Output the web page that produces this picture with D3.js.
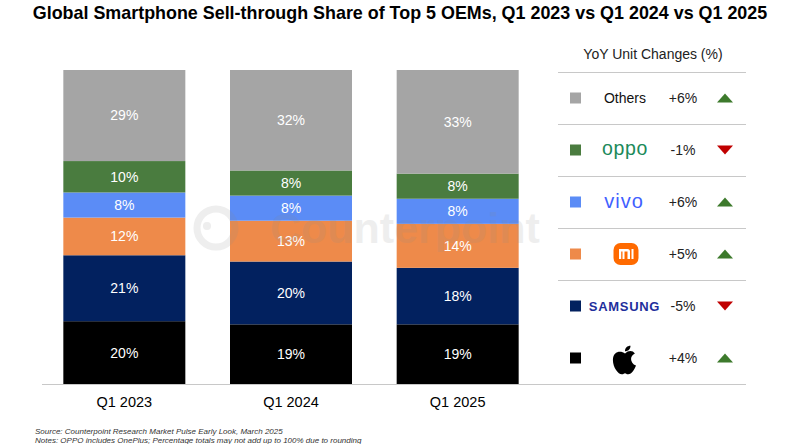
<!DOCTYPE html>
<html>
<head>
<meta charset="utf-8">
<script src="https://cdn.jsdelivr.net/npm/d3@7"></script>
<style>
  body { margin: 0; background: #fff; }
  text { font-family: "Liberation Sans", Arial, sans-serif; }
</style>
</head>
<body>
<div id="chart"></div>
<script>
// chart data
const quarters = ['Q1 2023', 'Q1 2024', 'Q1 2025'];
const brands = ['Apple', 'Samsung', 'Xiaomi', 'vivo', 'OPPO', 'Others']; // bottom to top
const apple = [20, 19, 19];
const samsung = [21, 20, 18];
const xiaomi = [12, 13, 14];
const vivo = [8, 8, 8];
const oppo = [10, 8, 8];
const others = [29, 32, 33];
// legend, top to bottom
const legendBrands = ['Others', 'OPPO', 'vivo', 'Xiaomi', 'Samsung', 'Apple'];
const yoyChange = [6, -1, 6, 5, -5, 4];

const WIDTH = 790;
const HEIGHT = 444;
const colors = {
  Apple: '#000000',
  Samsung: '#02215f',
  Xiaomi: '#ee8a4a',
  vivo: '#5b8cf6',
  OPPO: '#4a7c3f',
  Others: '#a5a5a5'
};

const svg = d3.select('#chart')
  .append('svg')
  .attr('width', WIDTH)
  .attr('height', HEIGHT);

// title
svg.append('text')
  .attr('x', 400)
  .attr('y', 19)
  .attr('text-anchor', 'middle')
  .attr('font-size', '17.9px')
  .attr('font-weight', 'bold')
  .attr('fill', '#000')
  .text('Global Smartphone Sell-through Share of Top 5 OEMs, Q1 2023 vs Q1 2024 vs Q1 2025');

// scales
const x = d3.scaleBand()
  .domain(quarters)
  .range([41, 541])
  .paddingInner(0.268)
  .paddingOuter(0.134);

const y = d3.scaleLinear()
  .domain([0, 100])
  .range([384, 70]);

// stack the series
const table = quarters.map((q, i) => ({
  quarter: q,
  Apple: apple[i],
  Samsung: samsung[i],
  Xiaomi: xiaomi[i],
  vivo: vivo[i],
  OPPO: oppo[i],
  Others: others[i]
}));
const series = d3.stack().keys(brands)(table);

const layers = svg.append('g')
  .selectAll('g')
  .data(series)
  .enter()
  .append('g')
  .attr('fill', d => colors[d.key]);

layers.selectAll('rect')
  .data(d => d)
  .enter()
  .append('rect')
  .attr('x', d => x(d.data.quarter))
  .attr('y', d => y(d[1]))
  .attr('width', x.bandwidth())
  .attr('height', d => y(d[0]) - y(d[1]));

// watermark, faint, over the bars
const wm = svg.append('g').attr('opacity', 0.14).attr('fill', '#8a8a8a');
wm.append('circle')
  .attr('cx', 216).attr('cy', 228).attr('r', 19)
  .attr('fill', 'none').attr('stroke', '#8a8a8a').attr('stroke-width', 7);
wm.append('circle').attr('cx', 207).attr('cy', 226).attr('r', 4);
wm.append('text')
  .attr('x', 270).attr('y', 243)
  .attr('font-size', '43px')
  .attr('font-weight', 'bold')
  .text('Counterpoint');

layers.selectAll('text')
  .data(d => d)
  .enter()
  .append('text')
  .attr('x', d => x(d.data.quarter) + x.bandwidth() / 2)
  .attr('y', d => (y(d[0]) + y(d[1])) / 2)
  .attr('dy', '0.35em')
  .attr('text-anchor', 'middle')
  .attr('font-size', '14px')
  .attr('fill', '#fff')
  .text(d => (d[1] - d[0]) + '%');
layers.raise();
layers.selectAll('rect').lower();

// x axis
svg.append('line')
  .attr('x1', 42).attr('x2', 746)
  .attr('y1', 384.5).attr('y2', 384.5)
  .attr('stroke', '#c8c8c8').attr('stroke-width', 1);

svg.append('g')
  .selectAll('text')
  .data(quarters)
  .enter()
  .append('text')
  .attr('x', d => x(d) + x.bandwidth() / 2)
  .attr('y', 407)
  .attr('text-anchor', 'middle')
  .attr('font-size', '14.5px')
  .attr('fill', '#000')
  .text(d => d);

// legend
svg.append('text')
  .attr('x', 653).attr('y', 59)
  .attr('text-anchor', 'middle')
  .attr('font-size', '14px')
  .attr('fill', '#222')
  .text('YoY Unit Changes (%)');

const rowY = d3.scaleBand()
  .domain(legendBrands)
  .range([72, 384]);

svg.append('g')
  .selectAll('line')
  .data(legendBrands.slice(0, -1))
  .enter()
  .append('line')
  .attr('x1', 558).attr('x2', 746)
  .attr('y1', d => rowY(d) + 0.5)
  .attr('y2', d => rowY(d) + 0.5)
  .attr('stroke', '#c8c8c8');

const rows = svg.append('g')
  .selectAll('g')
  .data(legendBrands)
  .enter()
  .append('g')
  .attr('transform', d => `translate(0, ${rowY(d) + rowY.bandwidth() / 2})`);

rows.append('rect')
  .attr('x', 570).attr('y', -5.5)
  .attr('width', 11).attr('height', 11)
  .attr('fill', d => colors[d]);

rows.append('text')
  .attr('x', 683).attr('dy', '0.35em')
  .attr('text-anchor', 'middle')
  .attr('font-size', '14px')
  .attr('fill', '#222')
  .text((d, i) => (yoyChange[i] > 0 ? '+' : '') + yoyChange[i] + '%');

rows.append('path')
  .attr('transform', 'translate(725, 0)')
  .attr('d', (d, i) => yoyChange[i] > 0 ? 'M-8,4.5L8,4.5L0,-4.5Z' : 'M-8,-4.5L8,-4.5L0,4.5Z')
  .attr('fill', (d, i) => yoyChange[i] > 0 ? '#3d7a2c' : '#c00000');

// brand marks
rows.filter(d => d === 'Others').append('text')
  .attr('x', 625).attr('dy', '0.35em')
  .attr('text-anchor', 'middle')
  .attr('font-size', '14px')
  .attr('fill', '#111')
  .text('Others');

rows.filter(d => d === 'OPPO').append('text')
  .attr('x', 625).attr('dy', '0.28em')
  .attr('text-anchor', 'middle')
  .attr('font-family', 'Roboto, sans-serif')
  .attr('font-weight', 300)
  .attr('font-size', '19.5px')
  .attr('letter-spacing', '0.6px')
  .attr('fill', '#1c8a5a')
  .text('oppo');

rows.filter(d => d === 'vivo').append('text')
  .attr('x', 624).attr('dy', '0.28em')
  .attr('text-anchor', 'middle')
  .attr('font-family', 'Roboto, sans-serif')
  .attr('font-weight', 300)
  .attr('font-size', '20px')
  .attr('letter-spacing', '1px')
  .attr('fill', '#415fff')
  .text('vivo');

const mi = rows.filter(d => d === 'Xiaomi').append('g')
  .attr('transform', 'translate(626, 0)');
mi.append('rect')
  .attr('x', -12.5).attr('y', -11)
  .attr('width', 25).attr('height', 22)
  .attr('rx', 7)
  .attr('fill', '#ff6a00');
mi.append('path')
  .attr('d', 'M-7,5V-5H1.5Q4,-5 4,-2.5V5H1.5V-2.5H-1.5V5H-3.5V-2.5H-4.8V5Z M5.5,-5H7.5V5H5.5Z')
  .attr('fill', '#fff');

rows.filter(d => d === 'Samsung').append('text')
  .attr('x', 624.5).attr('dy', '0.36em')
  .attr('text-anchor', 'middle')
  .attr('font-size', '13px')
  .attr('font-weight', 'bold')
  .attr('letter-spacing', '0.7px')
  .attr('fill', '#1f2f9c')
  .text('SAMSUNG');

rows.filter(d => d === 'Apple').append('path')
  .attr('transform', 'translate(625, 2) scale(1.1)')
  .attr('d', 'M0,-6C-4,-9 -11,-8 -11,0C-11,7 -6,13 -3,13C-1,13 -1,12 0,12C1,12 1,13 3,13C6,13 9,8 10,5C7,4 5.5,1 5.5,-1C5.5,-3 7,-5 9,-6C7,-9 3,-9 0,-6Z M0,-8C0,-11 2,-13 5,-13C5,-10 3,-8 0,-8Z')
  .attr('fill', '#000');

// footnotes
svg.append('text')
  .attr('x', 35).attr('y', 434)
  .attr('font-size', '8px')
  .attr('font-style', 'italic')
  .attr('fill', '#333')
  .text('Source: Counterpoint Research Market Pulse Early Look, March 2025');
svg.append('text')
  .attr('x', 35).attr('y', 443)
  .attr('font-size', '8px')
  .attr('font-style', 'italic')
  .attr('fill', '#333')
  .text('Notes: OPPO includes OnePlus; Percentage totals may not add up to 100% due to rounding');
</script>
</body>
</html>
